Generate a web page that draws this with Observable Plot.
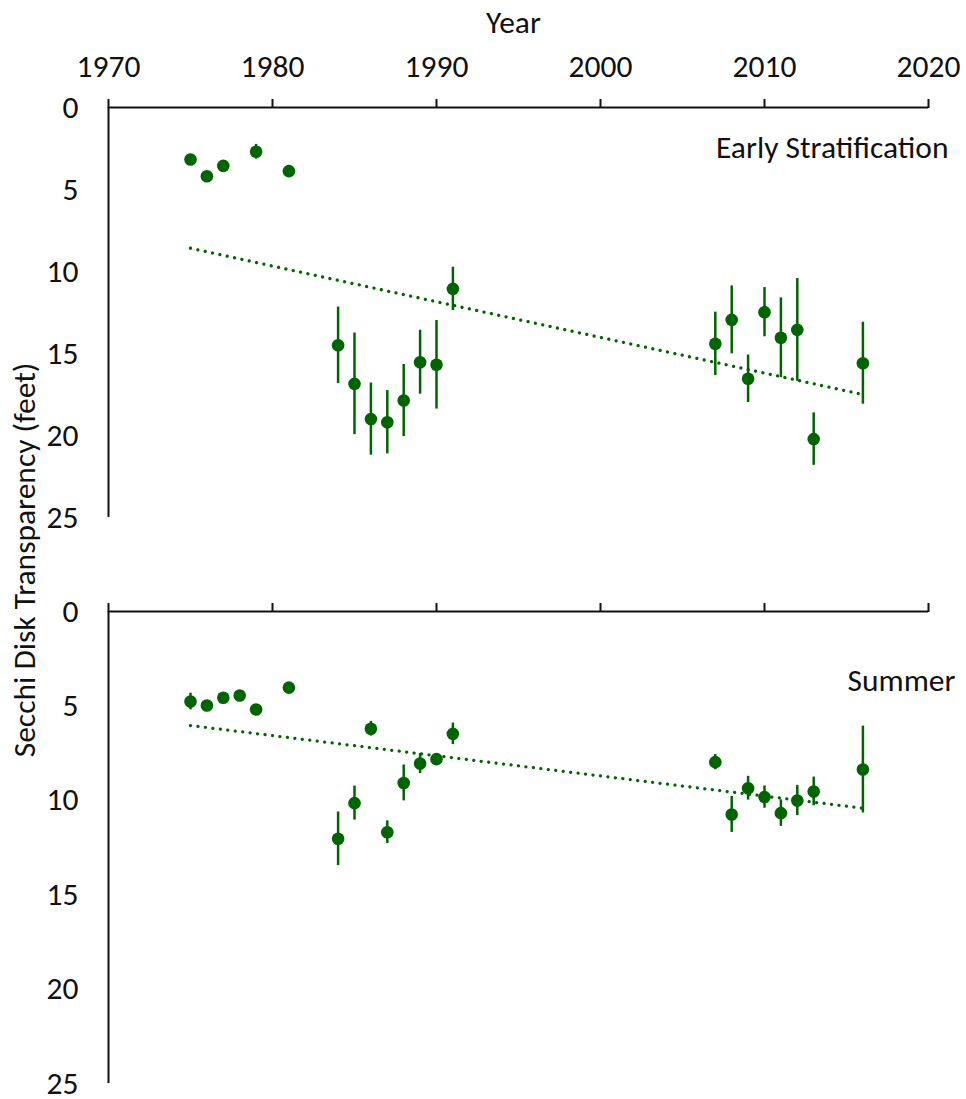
<!DOCTYPE html>
<html>
<head>
<meta charset="utf-8">
<script src="https://cdn.jsdelivr.net/npm/d3@7"></script>
<script src="https://cdn.jsdelivr.net/npm/@observablehq/plot@0.6"></script>
<style>
  html, body { margin: 0; padding: 0; background: #fff; }
  #wrap { position: relative; width: 966px; height: 1099px; font-family: Carlito, Lato, sans-serif; }
  #top, #bottom { position: absolute; left: 0; }
  #top { top: 0; }
  #bottom { top: 530px; }
  #ylab { position: absolute; left: -226px; top: 543px; width: 500px; height: 34px; line-height: 34px;
          text-align: center; font-size: 31.5px; color: #111; transform: rotate(-90deg); white-space: nowrap; }
</style>
</head>
<body>
<div id="wrap">
  <div id="top"></div>
  <div id="bottom"></div>
  <div id="ylab">Secchi Disk Transparency (feet)</div>
</div>
<script>
// Early Stratification panel
const yearsEarly  = [1975, 1976, 1977, 1979, 1981, 1984, 1985, 1986, 1987, 1988, 1989, 1990, 1991, 2007, 2008, 2009, 2010, 2011, 2012, 2013, 2016];
const secchiEarly = [3.17, 4.19, 3.56, 2.70, 3.88, 14.5, 16.85, 19.0, 19.19, 17.87, 15.53, 15.69, 11.06, 14.41, 12.95, 16.54, 12.48, 14.04, 13.56, 20.22, 15.59];
const errEarly    = [0.2, 0.2, 0.2, 0.45, 0.35, 2.33, 3.1, 2.2, 1.93, 2.2, 1.95, 2.7, 1.32, 1.93, 2.07, 1.45, 1.5, 2.43, 3.13, 1.6, 2.5];

// Summer panel
const yearsSummer  = [1975, 1976, 1977, 1978, 1979, 1981, 1984, 1985, 1986, 1987, 1988, 1989, 1990, 1991, 2007, 2008, 2009, 2010, 2011, 2012, 2013, 2016];
const secchiSummer = [4.77, 4.98, 4.57, 4.45, 5.19, 4.03, 12.04, 10.15, 6.21, 11.69, 9.08, 8.05, 7.82, 6.48, 7.98, 10.75, 9.36, 9.83, 10.68, 10.01, 9.53, 8.37];
const errSummer    = [0.44, 0.2, 0.2, 0.2, 0.2, 0.2, 1.42, 0.9, 0.39, 0.6, 0.95, 0.53, 0.2, 0.57, 0.4, 0.95, 0.63, 0.59, 0.7, 0.8, 0.76, 2.3];

// Trend lines (read endpoints)
const trendYears  = [1975, 2016];
const trendEarly  = [8.58, 17.5];
const trendSummer = [6.04, 10.42];

const xTicks = [1970, 1980, 1990, 2000, 2010, 2020];
const yTicks = [0, 5, 10, 15, 20, 25];
const panelLabels = ["Early Stratification", "Summer"];
const xTitle = "Year";

const GREEN = "#006400";
const INK = "#111";
const FONT = "Carlito, Lato, sans-serif";
const FS = 31.5;

function rows(xs, ys, es) { return xs.map((x, i) => ({x, y: ys[i], e: es ? es[i] : 0})); }

function panel({data, trend, label, height, marginTop, marginBottom, showXLabels, labelDx, labelDy}) {
  const marks = [
    Plot.ruleY([0], {stroke: INK, strokeWidth: 2}),
    Plot.ruleX([1970], {stroke: INK, strokeWidth: 2}),
    Plot.axisX({anchor: "top", ticks: xTicks, tickSize: 9, tickPadding: 22, strokeWidth: 2, stroke: INK,
                tickFormat: showXLabels ? (d => String(d)) : (() => ""), fontSize: FS, fill: INK, label: null}),
    Plot.axisY({anchor: "left", ticks: yTicks, tickSize: 0, tickPadding: 30, fontSize: FS, fill: INK, label: null,
                tickFormat: d => String(d)}),
    Plot.line(trend, {x: "x", y: "y", stroke: GREEN, strokeWidth: 3.3, strokeLinecap: "round", strokeDasharray: "0.01,7.5"}),
    Plot.ruleX(data, {x: "x", y1: d => d.y - d.e, y2: d => d.y + d.e, stroke: GREEN, strokeWidth: 2.5}),
    Plot.dot(data, {x: "x", y: "y", r: 6.3, fill: GREEN, stroke: "none"}),
    Plot.text([label], {frameAnchor: "top-right", text: d => d, textAnchor: "end", lineAnchor: "middle",
                        dx: labelDx, dy: labelDy, fontSize: FS, fill: INK})
  ];
  if (showXLabels) {
    marks.push(Plot.text([xTitle], {frameAnchor: "top", text: d => d, lineAnchor: "bottom", dx: -5, dy: -75,
                                    fontSize: FS, fill: INK}));
  }
  return Plot.plot({
    width: 966, height, marginTop, marginBottom, marginLeft: 108, marginRight: 38,
    x: {domain: [1970, 2020]},
    y: {domain: [0, 25], reverse: true},
    style: {fontFamily: FONT, fontSize: FS + "px", color: INK, background: "white", overflow: "visible"},
    marks
  });
}

document.getElementById("top").append(panel({
  data: rows(yearsEarly, secchiEarly, errEarly),
  trend: rows(trendYears, trendEarly),
  label: panelLabels[0], height: 530, marginTop: 107, marginBottom: 13, showXLabels: true,
  labelDx: 20, labelDy: 40
}));
document.getElementById("bottom").append(panel({
  data: rows(yearsSummer, secchiSummer, errSummer),
  trend: rows(trendYears, trendSummer),
  label: panelLabels[1], height: 569, marginTop: 81, marginBottom: 16, showXLabels: false,
  labelDx: 27, labelDy: 69
}));
</script>
</body>
</html>
